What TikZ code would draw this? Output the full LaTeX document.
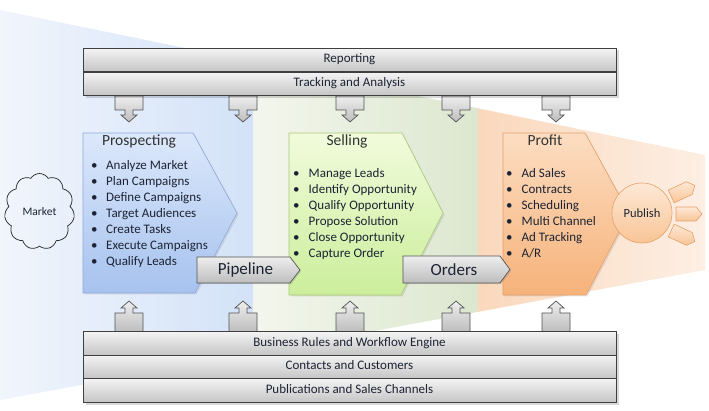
\documentclass[tikz,border=0pt]{standalone}
\usepackage{fontspec}
\setmainfont{Carlito}
\usetikzlibrary{shapes.symbols,shadows}
\definecolor{barT}{HTML}{F4F4F4}
\definecolor{barB}{HTML}{C4C4C4}
\definecolor{barline}{HTML}{3F3F3F}
\definecolor{calT}{HTML}{EEEEEE}
\definecolor{calB}{HTML}{BDBDBD}
\definecolor{bl1}{HTML}{F1F5FC}
\definecolor{bl2}{HTML}{D3E2F8}
\definecolor{gr1}{HTML}{F3F6ED}
\definecolor{gr2}{HTML}{DCE7CF}
\definecolor{or1}{HTML}{FAD8BC}
\definecolor{or2}{HTML}{FDEFE4}
\definecolor{pT}{HTML}{DCE8FB}
\definecolor{pB}{HTML}{A6C2EE}
\definecolor{pL}{HTML}{8EAAD8}
\definecolor{sT}{HTML}{F1FBDC}
\definecolor{sB}{HTML}{CBEE9B}
\definecolor{sL}{HTML}{A9C97A}
\definecolor{fT}{HTML}{FCDDC2}
\definecolor{fB}{HTML}{F6B27A}
\definecolor{fL}{HTML}{E6A068}
\definecolor{cT}{HTML}{FDE8D5}
\definecolor{cB}{HTML}{F8C597}
\definecolor{txt}{HTML}{1C2333}
\definecolor{ttl}{HTML}{333333}
\begin{document}
\begin{tikzpicture}[x=1pt,y=-1pt,
  bar/.style={draw=barline, line width=0.9pt, top color=barT, bottom color=barB,
    minimum width=533pt, minimum height=23.5pt, inner sep=0pt,
    font=\fontsize{13}{15}\selectfont, text=txt, text height=9pt, text depth=3pt},
  callout/.style={draw=barline!90, line width=0.7pt, top color=calT, bottom color=calB},
  bul/.style={anchor=base west, inner sep=0pt, font=\fontsize{13}{16}\selectfont, text=txt},
  ttlstyle/.style={anchor=base, inner sep=0pt, font=\fontsize{15.5}{18}\selectfont, text=ttl},
  flowarrow/.style={draw=barline!90, line width=0.7pt, top color=calT, bottom color=calB,
    drop shadow={opacity=0.25, shadow xshift=1.2pt, shadow yshift=-1.2pt}},
  flowtext/.style={inner sep=0pt, font=\fontsize{17}{20}\selectfont, text=txt},
  shad/.style={drop shadow={opacity=0.2, shadow xshift=1.5pt, shadow yshift=-1.5pt}}
]
\useasboundingbox (0,0) rectangle (709,411);
% background funnel
\begin{scope}
\clip (0,10) -- (705,155) -- (705,270) -- (0,400) -- cycle;
\shade[left color=bl1, right color=bl2] (0,0) rectangle (253,411);
\shade[left color=gr1, right color=gr2] (253,0) rectangle (478,411);
\shade[left color=or1, right color=or2] (478,0) rectangle (706,411);
\end{scope}
% callout arrows
\foreach \cx in {129,243,350,456,556} {
  \draw[callout] (\cx-14,96) -- (\cx+14,96) -- (\cx+14,110) -- (\cx+4,110) -- (\cx+4,115)
    -- (\cx+8,115) -- (\cx,122) -- (\cx-8,115) -- (\cx-4,115) -- (\cx-4,110) -- (\cx-14,110) -- cycle;
  \draw[callout] (\cx-14,332) -- (\cx+14,332) -- (\cx+14,313) -- (\cx+4,313) -- (\cx+4,308)
    -- (\cx+8,308) -- (\cx,301) -- (\cx-8,308) -- (\cx-4,308) -- (\cx-4,313) -- (\cx-14,313) -- cycle;
}
% bars
\path[fill=black, opacity=0.15] (85.5,50.5) rectangle (618.5,98.5);
\path[fill=black, opacity=0.15] (85.5,334.5) rectangle (618.5,404.5);
\node[bar] (rep) at (349.5,60) {Reporting};
\node[bar] (trk) at (349.5,84) {Tracking and Analysis};
\node[bar] (bus) at (349.5,343.5) {Business Rules and Workflow Engine};
\node[bar] (con) at (349.5,367) {Contacts and Customers};
\node[bar] (pub) at (349.5,390.5) {Publications and Sales Channels};
% chevrons
\path[shad, draw=pL, line width=0.6pt, top color=pT, bottom color=pB]
  (83,133) -- (193,133) -- (237,213) -- (195,293) -- (83,293) -- cycle;
\path[shad, draw=sL, line width=0.6pt, top color=sT, bottom color=sB]
  (289,133) -- (402,133) -- (443,213) -- (401,295) -- (289,295) -- cycle;
\path[shad, draw=fL, line width=0.6pt, top color=fT, bottom color=fB]
  (503,133) -- (585,133) -- (629,213) -- (586,295) -- (503,295) -- cycle;
% titles
\node[ttlstyle] (tp) at (139,146) {Prospecting};
\node[ttlstyle] (ts) at (347,146) {Selling};
\node[ttlstyle] (tf) at (545,146) {Profit};
% bullets
\foreach \t [count=\i] in {Analyze Market, Plan Campaigns, Define Campaigns, Target Audiences, Create Tasks, Execute Campaigns, Qualify Leads}
  \node[bul] (p\i) at (91,{170+16*(\i-1)}) {\makebox[15pt][l]{\textbullet}\t};
\foreach \t [count=\i] in {Manage Leads, Identify Opportunity, Qualify Opportunity, Propose Solution, Close Opportunity, Capture Order}
  \node[bul] (s\i) at (293,{178+16*(\i-1)}) {\makebox[15.5pt][l]{\textbullet}\t};
\foreach \t [count=\i] in {Ad Sales, Contracts, Scheduling, Multi Channel, Ad Tracking, A/R}
  \node[bul] (f\i) at (506,{178+16*(\i-1)}) {\makebox[15.5pt][l]{\textbullet}\t};
% flow arrows
\path[flowarrow] (197,257) -- (290,257) -- (300,270) -- (290,283) -- (197,283) -- cycle;
\node[flowtext] (pipe) at (245.5,270) {Pipeline};
\path[flowarrow] (403,256) -- (500,256) -- (510,269.5) -- (500,283) -- (403,283) -- cycle;
\node[flowtext] (ord) at (454,269.5) {Orders};
% market cloud
\node[cloud, cloud puffs=11, cloud puff arc=115, aspect=0.9, draw=black!85, line width=0.7pt,
  minimum width=70pt, minimum height=76pt, inner sep=0pt,
  font=\fontsize{11.5}{13}\selectfont, text=txt] (market) at (39.5,211.5) {Market};
% publish
\node[circle, draw=fL, line width=0.6pt, top color=cT, bottom color=cB, minimum size=60pt,
  inner sep=0pt, font=\fontsize{12.5}{14}\selectfont, text=txt] (publish) at (642,213) {Publish};
\foreach \ang/\px/\py in {25/683/191, 0/689/214, -25/683/236} {
  \begin{scope}[shift={(\px,\py)}, rotate=\ang]
  \path[draw=fL, line width=0.6pt, top color=cT, bottom color=cB]
    (-13,-7) -- (7,-7) -- (13,0) -- (7,7) -- (-13,7) -- cycle;
  \end{scope}
}
\end{tikzpicture}
\end{document}
